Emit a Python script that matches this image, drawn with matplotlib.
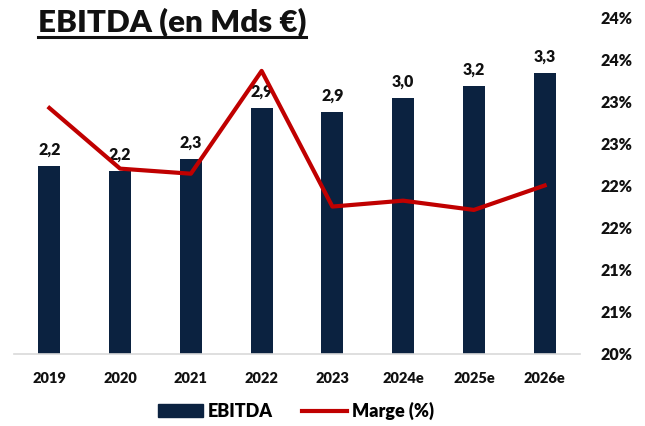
import numpy as np
import matplotlib
matplotlib.use("Agg")
import matplotlib.pyplot as plt
from matplotlib.ticker import FuncFormatter
from matplotlib.patches import Patch
from matplotlib.lines import Line2D

# data
years = ["2019", "2020", "2021", "2022", "2023", "2024e", "2025e", "2026e"]
ebitda = [2.22, 2.16, 2.30, 2.90, 2.86, 3.02, 3.17, 3.32]
marge = [22.92, 22.20, 22.14, 23.36, 21.75, 21.82, 21.71, 22.00]

navy = "#0b2240"
red = "#c00000"
plt.rcParams["font.family"] = ["Lato", "DejaVu Sans"]
plt.rcParams["font.weight"] = "heavy"

fig = plt.figure(figsize=(6.45, 4.26), dpi=100)
ax = fig.add_axes([14/645, 1-354/426, 566/645, 337/426])
x = np.arange(len(years))

ax.bar(x, ebitda, width=0.31, color=navy, zorder=2)
for xi, v in zip(x, ebitda):
	ax.annotate("{:.1f}".format(v).replace(".", ","), (xi, v), xytext=(0, 6),
		textcoords="offset points", ha="center", va="bottom",
		fontsize=11.5, fontweight="heavy", color="#111111")

ax.set_xlim(-0.5, 7.5)
ax.set_ylim(0, 3.98)
ax.set_yticks([])
ax.set_xticks(x)
ax.set_xticklabels(years, fontsize=10.5, fontweight="heavy", color="#111111")
ax.tick_params(axis="x", length=0, pad=13)
for s in ["top", "left", "right"]:
	ax.spines[s].set_visible(False)
ax.spines["bottom"].set_color("#d9d9d9")
ax.spines["bottom"].set_linewidth(1.2)

ax2 = ax.twinx()
ax2.plot(x, marge, color=red, linewidth=3, zorder=3)
ax2.set_ylim(20, 24)
ax2.set_yticks(np.arange(20, 24.01, 0.5))
ax2.yaxis.set_major_formatter(FuncFormatter(lambda t, p: "{}%".format(int(np.floor(t + 0.5)))))
ax2.tick_params(axis="y", length=0, pad=15, labelsize=11.5, labelcolor="#111111")
for lab in ax2.get_yticklabels():
	lab.set_fontweight("heavy")
for s in ax2.spines.values():
	s.set_visible(False)

fig.text(38/645, 1-22/426, "EBITDA (en Mds €)", fontsize=22.5, fontweight="heavy",
	va="center", ha="left", color="#111111")
fig.add_artist(Line2D([38/645, 306/645], [1-37/426, 1-37/426], color="#111111", linewidth=2.2))

handles = [Patch(color=navy, label="EBITDA"), Line2D([], [], color=red, linewidth=3, label="Marge (%)")]
fig.legend(handles=handles, loc="center", bbox_to_anchor=(296/645, 1-411/426), ncol=2,
	frameon=False, fontsize=13, handlelength=2.5, handleheight=0.7, columnspacing=1.6,
	handletextpad=0.3)

plt.savefig("out.png", dpi=100)
